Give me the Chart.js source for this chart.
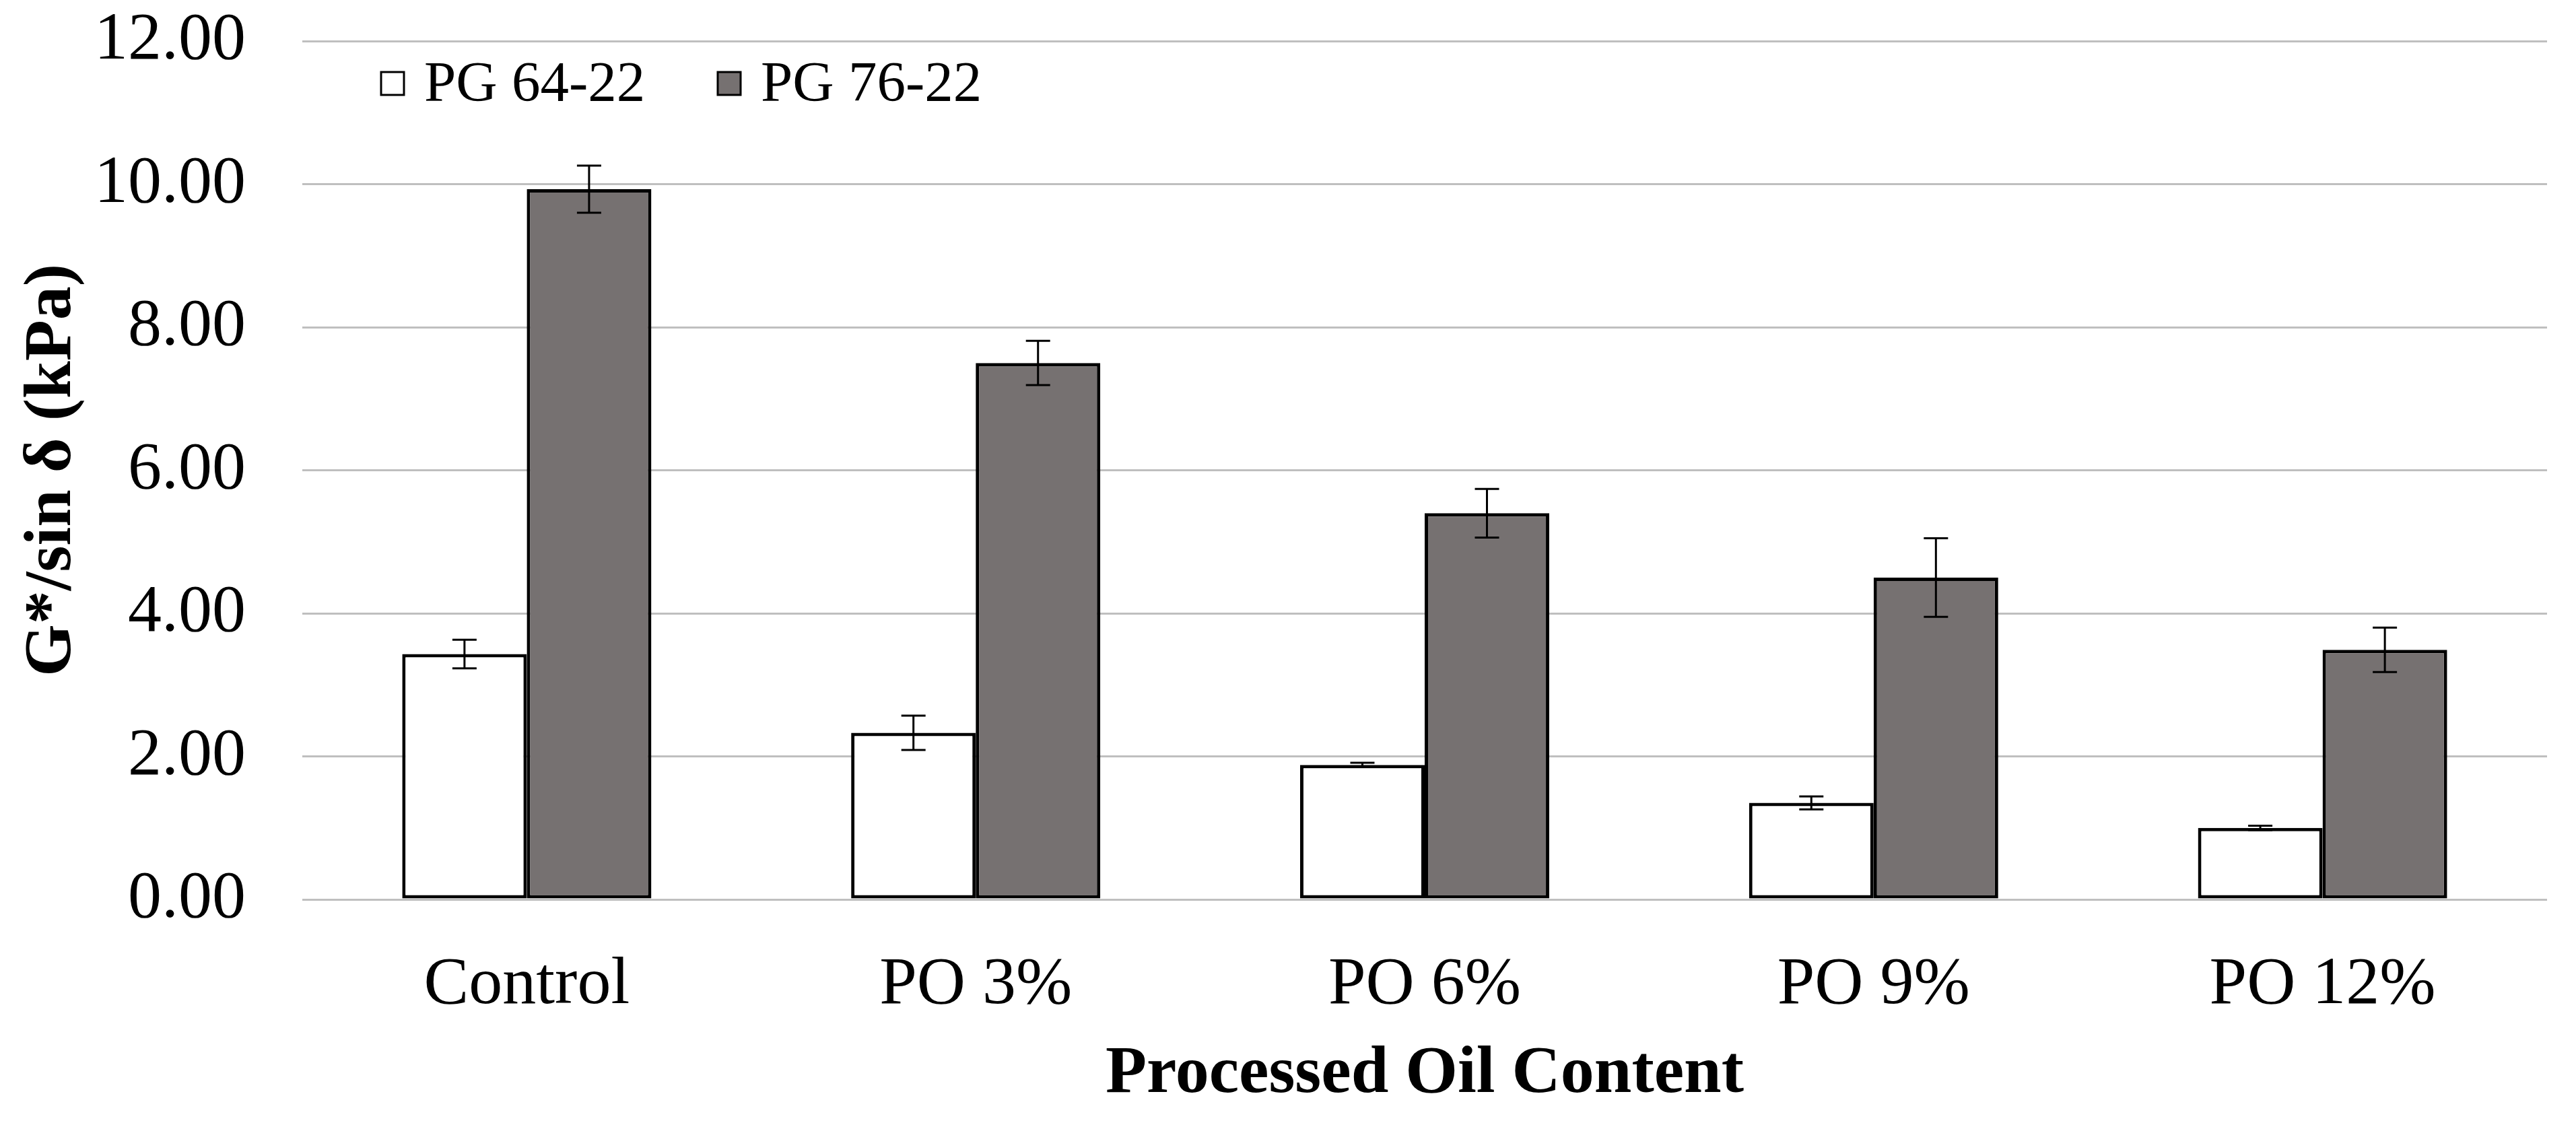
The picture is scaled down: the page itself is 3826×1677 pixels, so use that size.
<!DOCTYPE html>
<html>
<head>
<meta charset="utf-8">
<script src="https://cdn.jsdelivr.net/npm/chart.js@4.4.1/dist/chart.umd.min.js"></script>
<style>
  html, body { margin: 0; padding: 0; background: #fff; }
  canvas { display: block; }
</style>
</head>
<body>
<canvas id="chart" width="3826" height="1677"></canvas>
<script>
const categories = ['Control', 'PO 3%', 'PO 6%', 'PO 9%', 'PO 12%'];
const seriesNames = ['PG 64-22', 'PG 76-22'];
const pg6422 = [3.43, 2.33, 1.88, 1.35, 1.00];
const pg6422Err = [0.20, 0.24, 0.03, 0.09, 0.03];
const pg7622 = [9.93, 7.50, 5.40, 4.50, 3.49];
const pg7622Err = [0.33, 0.31, 0.34, 0.55, 0.31];
const yTicks = [0, 2, 4, 6, 8, 10, 12];

const FONT = "'Liberation Serif', 'Times New Roman', serif";
Chart.defaults.font.family = FONT;
Chart.defaults.color = '#000';

const errorBars = {
  id: 'errorBars',
  afterDatasetsDraw(chart) {
    const ctx = chart.ctx;
    const y = chart.scales.y;
    ctx.save();
    ctx.strokeStyle = '#000';
    ctx.lineWidth = 3;
    chart.data.datasets.forEach((ds, di) => {
      const meta = chart.getDatasetMeta(di);
      meta.data.forEach((bar, i) => {
        const v = ds.data[i], e = ds.errors[i];
        const top = y.getPixelForValue(v + e);
        const bot = y.getPixelForValue(v - e);
        ctx.beginPath();
        ctx.moveTo(bar.x, top); ctx.lineTo(bar.x, bot);
        ctx.moveTo(bar.x - 18, top); ctx.lineTo(bar.x + 18, top);
        ctx.moveTo(bar.x - 18, bot); ctx.lineTo(bar.x + 18, bot);
        ctx.stroke();
      });
    });
    ctx.restore();
  }
};

// legend sits inside the plot area, so draw it by hand
const innerLegend = {
  id: 'innerLegend',
  afterDraw(chart) {
    const ctx = chart.ctx;
    const starts = [566, 1066];
    const cy = 124;
    const box = 34;
    ctx.save();
    ctx.font = '85px ' + FONT;
    ctx.textBaseline = 'middle';
    ctx.textAlign = 'left';
    chart.data.datasets.forEach((ds, i) => {
      const x = starts[i];
      ctx.fillStyle = ds.backgroundColor;
      ctx.fillRect(x, cy - box / 2, box, box);
      ctx.lineWidth = 3;
      ctx.strokeStyle = '#000';
      ctx.strokeRect(x, cy - box / 2, box, box);
      ctx.fillStyle = '#000';
      ctx.fillText(ds.label, x + box + 30, cy + 4);
    });
    ctx.restore();
  }
};

new Chart(document.getElementById('chart'), {
  type: 'bar',
  data: {
    labels: categories,
    datasets: [
      { label: seriesNames[0], data: pg6422, errors: pg6422Err,
        backgroundColor: '#ffffff', borderColor: '#000', borderWidth: 5, borderSkipped: false },
      { label: seriesNames[1], data: pg7622, errors: pg7622Err,
        backgroundColor: '#767171', borderColor: '#000', borderWidth: 5, borderSkipped: false }
    ]
  },
  options: {
    responsive: false,
    animation: false,
    devicePixelRatio: 1,
    layout: { padding: { top: 0, right: 43, left: 0, bottom: 0 } },
    datasets: { bar: { categoryPercentage: 0.555, barPercentage: 1.0 } },
    plugins: { legend: { display: false }, tooltip: { enabled: false } },
    scales: {
      x: {
        grid: { display: false },
        border: { display: false },
        ticks: { font: { size: 100 }, padding: 60, color: '#000' },
        title: { display: true, text: 'Processed Oil Content', color: '#000',
                 font: { size: 100, weight: 'bold' }, padding: { top: 0, bottom: 21 } },
        afterFit(scale) { scale.height = 341; }
      },
      y: {
        min: 0, max: 12,
        afterBuildTicks(scale) { scale.ticks = yTicks.map(v => ({ value: v })); },
        grid: { color: '#bfbfbf', lineWidth: 3, drawTicks: false },
        border: { display: false },
        ticks: { font: { size: 100 }, padding: 84, color: '#000',
                 callback: v => Number(v).toFixed(2) },
        title: { display: true, text: 'G*/sin δ (kPa)', color: '#000',
                 font: { size: 100, weight: 'bold' }, padding: { top: 18, bottom: 0 } },
        afterFit(scale) {
          scale.width = 449;
          scale.paddingTop = 61;
          scale.paddingBottom = 60;
        }
      }
    }
  },
  plugins: [errorBars, innerLegend]
});
</script>
</body>
</html>
